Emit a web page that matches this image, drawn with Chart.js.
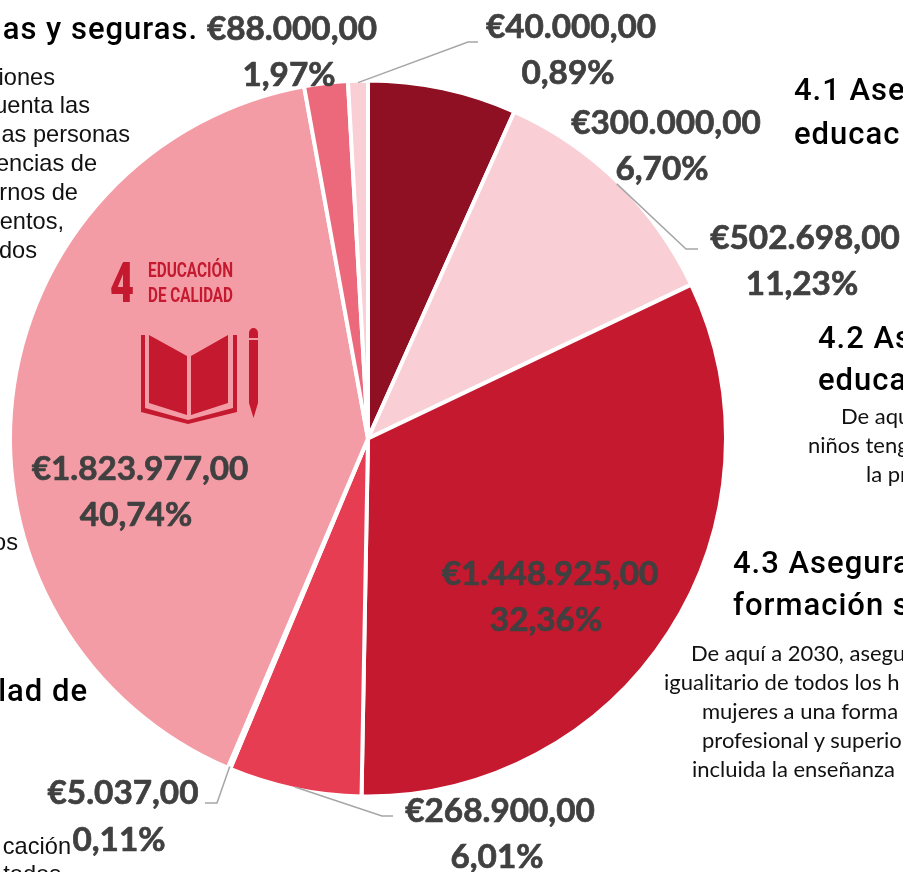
<!DOCTYPE html>
<html lang="es"><head><meta charset="utf-8">
<style>
html,body{margin:0;padding:0;background:#fff;overflow:hidden;width:903px;height:872px}
#wrap{position:relative;width:903px;height:872px;overflow:hidden}
canvas{position:absolute;left:0;top:0}
.t{position:absolute;white-space:pre;line-height:1}
.h{font:500 31px Roboto,sans-serif;letter-spacing:1px;color:#000}
.a{font:400 23.6px "Liberation Sans",Arial,sans-serif;color:#111}
.c{font:400 22px Lato,sans-serif;color:#111}
.r{transform:translateX(-100%)}
#logo{position:absolute;left:90px;top:240px}
</style></head><body>
<div id="wrap">
<canvas id="chart" width="903" height="872"></canvas>
<svg id="logo" width="190" height="190" viewBox="0 0 190 190" fill="#C4192E">
<text x="20" y="62" font-family="Roboto" font-weight="900" font-size="55" textLength="24" lengthAdjust="spacingAndGlyphs">4</text>
<text x="58" y="37" font-family="Roboto" font-weight="700" font-size="20" textLength="85" lengthAdjust="spacingAndGlyphs">EDUCACIÓN</text>
<text x="58" y="62" font-family="Roboto" font-weight="700" font-size="20" textLength="85" lengthAdjust="spacingAndGlyphs">DE CALIDAD</text>
<path d="M59 95 L97 116 V175 L59 163 Z M101 116 L138 95 V163 L101 175 Z"/>
<path d="M51 95 H55 V168 L98 180 L143 168 V95 H147 V172 L98 184 L51 172 Z"/>
<path d="M159 93 a4.5 5 0 0 1 9 0 V98 H159 Z M159 100 H168 V163 L163.500 178 L159 163 Z"/>
</svg>
<div id="notes"></div>
</div>
<script src="https://cdn.jsdelivr.net/npm/chart.js@4/dist/chart.umd.min.js"></script>
<script>
const categories = ["4.1","4.2","4.3","4.4","4.5","4.6","4.7","4.a"];
const amounts = [300000,502698,1448925,268900,5037,1823977,88000,40000];
const sliceColors = ["#8E1022","#F9CED4","#C4192E","#E63D53","#8E1022","#F39CA6","#EC697C","#F9CED4"];

const labelColor = "#404040";
const leaderColor = "#A6A6A6";
const labelFont = "700 33.3px Lato, sans-serif";
const lineGap = 46;
// label centre [x, first-line y], and optional elbow / end of the leader line
const labelPlacement = [
  {x:666,y:123,lastX:662},
  {x:805,y:238,lastX:802,elbow:[686,249],end:[698,249]},
  {x:550,y:574,lastX:546},
  {x:500,y:811,lastX:497,elbow:[382,816],end:[393,816]},
  {x:123,y:793,lastX:119,lastDy:1,elbow:[217,803],end:[205,803]},
  {x:140,y:469,lastX:136},
  {x:292,y:29,lastX:289},
  {x:571,y:27,lastX:568,elbow:[468,42],end:[478,42]}
];

const total = amounts.reduce((a,b)=>a+b,0);
function money(v){
  const whole = String(Math.trunc(v)).replace(/\B(?=(\d{3})+(?!\d))/g,".");
  return "€"+whole+",00";
}
function share(v){ return (v/total*100).toFixed(2).replace(".",",")+"%"; }

const notes = [
  ["h",198,10,"r","as y seguras."],
  ["a",55,64,"r","iones"],["a",90,92,"r","uenta las"],["a",130,121,"r","as personas"],
  ["a",97,150,"r","encias de"],["a",78,179,"r","rnos de"],["a",64,208,"r","entos,"],["a",37,237,"r","dos"],
  ["a",18,529,"r","os"],
  ["h",88,672,"r","lad de"],
  ["a",71,833,"r","cación"],["a",61,861,"r","todos"],
  ["h",794,71,"","4.1 Ase"],["h",794,115,"","educac"],
  ["h",818,319,"","4.2 As"],["h",818,361,"","educa"],
  ["c",841,402,"","De aqu"],["c",808,431,"","niños teng"],["c",866,460,"","la pr"],
  ["h",733,544,"","4.3 Asegura"],["h",733,586,"","formación s"],
  ["c",691,639,"","De aquí a 2030, asegu"],["c",664,668,"","igualitario de todos los h"],
  ["c",702,697,"","mujeres a una forma"],["c",702,726,"","profesional y superio"],["c",692,755,"","incluida la enseñanza"]
];
const host = document.getElementById("notes");
notes.forEach(([k,x,y,al,s])=>{
  const d=document.createElement("div");
  d.className="t "+k+(al?" "+al:"");
  d.style.left=x+"px"; d.style.top=y+"px"; d.textContent=s;
  host.appendChild(d);
});

const valueLabels = {
  id:"valueLabels",
  afterDatasetsDraw(chart){
    const ctx=chart.ctx, arcs=chart.getDatasetMeta(0).data;
    ctx.save();
    arcs.forEach((arc,i)=>{
      const p=labelPlacement[i];
      if(p.elbow){
        const mid=(arc.startAngle+arc.endAngle)/2, r=arc.outerRadius-2;
        ctx.beginPath();
        ctx.moveTo(arc.x+Math.cos(mid)*r, arc.y+Math.sin(mid)*r);
        ctx.lineTo(p.elbow[0],p.elbow[1]); ctx.lineTo(p.end[0],p.end[1]);
        ctx.strokeStyle=leaderColor; ctx.lineWidth=1.5; ctx.stroke();
      }
    });
    ctx.font=labelFont; ctx.fillStyle=labelColor; ctx.strokeStyle=labelColor; ctx.lineWidth=0.7; ctx.lineJoin="round";
    ctx.textAlign="center"; ctx.textBaseline="middle";
    arcs.forEach((arc,i)=>{
      const p=labelPlacement[i];
      [[money(amounts[i]),p.x,p.y],[share(amounts[i]),p.lastX,p.y+lineGap+(p.lastDy||0)]].forEach(([s,x,y])=>{
        ctx.fillText(s,x,y); ctx.strokeText(s,x,y);
      });
    });
    ctx.restore();
  }
};

new Chart(document.getElementById("chart"),{
  type:"pie",
  data:{labels:categories,datasets:[{data:amounts,backgroundColor:sliceColors,borderColor:"#fff",borderWidth:4,hoverOffset:0}]},
  options:{
    responsive:false,animation:false,
    layout:{padding:{left:8,right:175,top:78.5,bottom:73.5}},
    plugins:{legend:{display:false},tooltip:{enabled:false}}
  },
  plugins:[valueLabels]
});
</script>
</body></html>
